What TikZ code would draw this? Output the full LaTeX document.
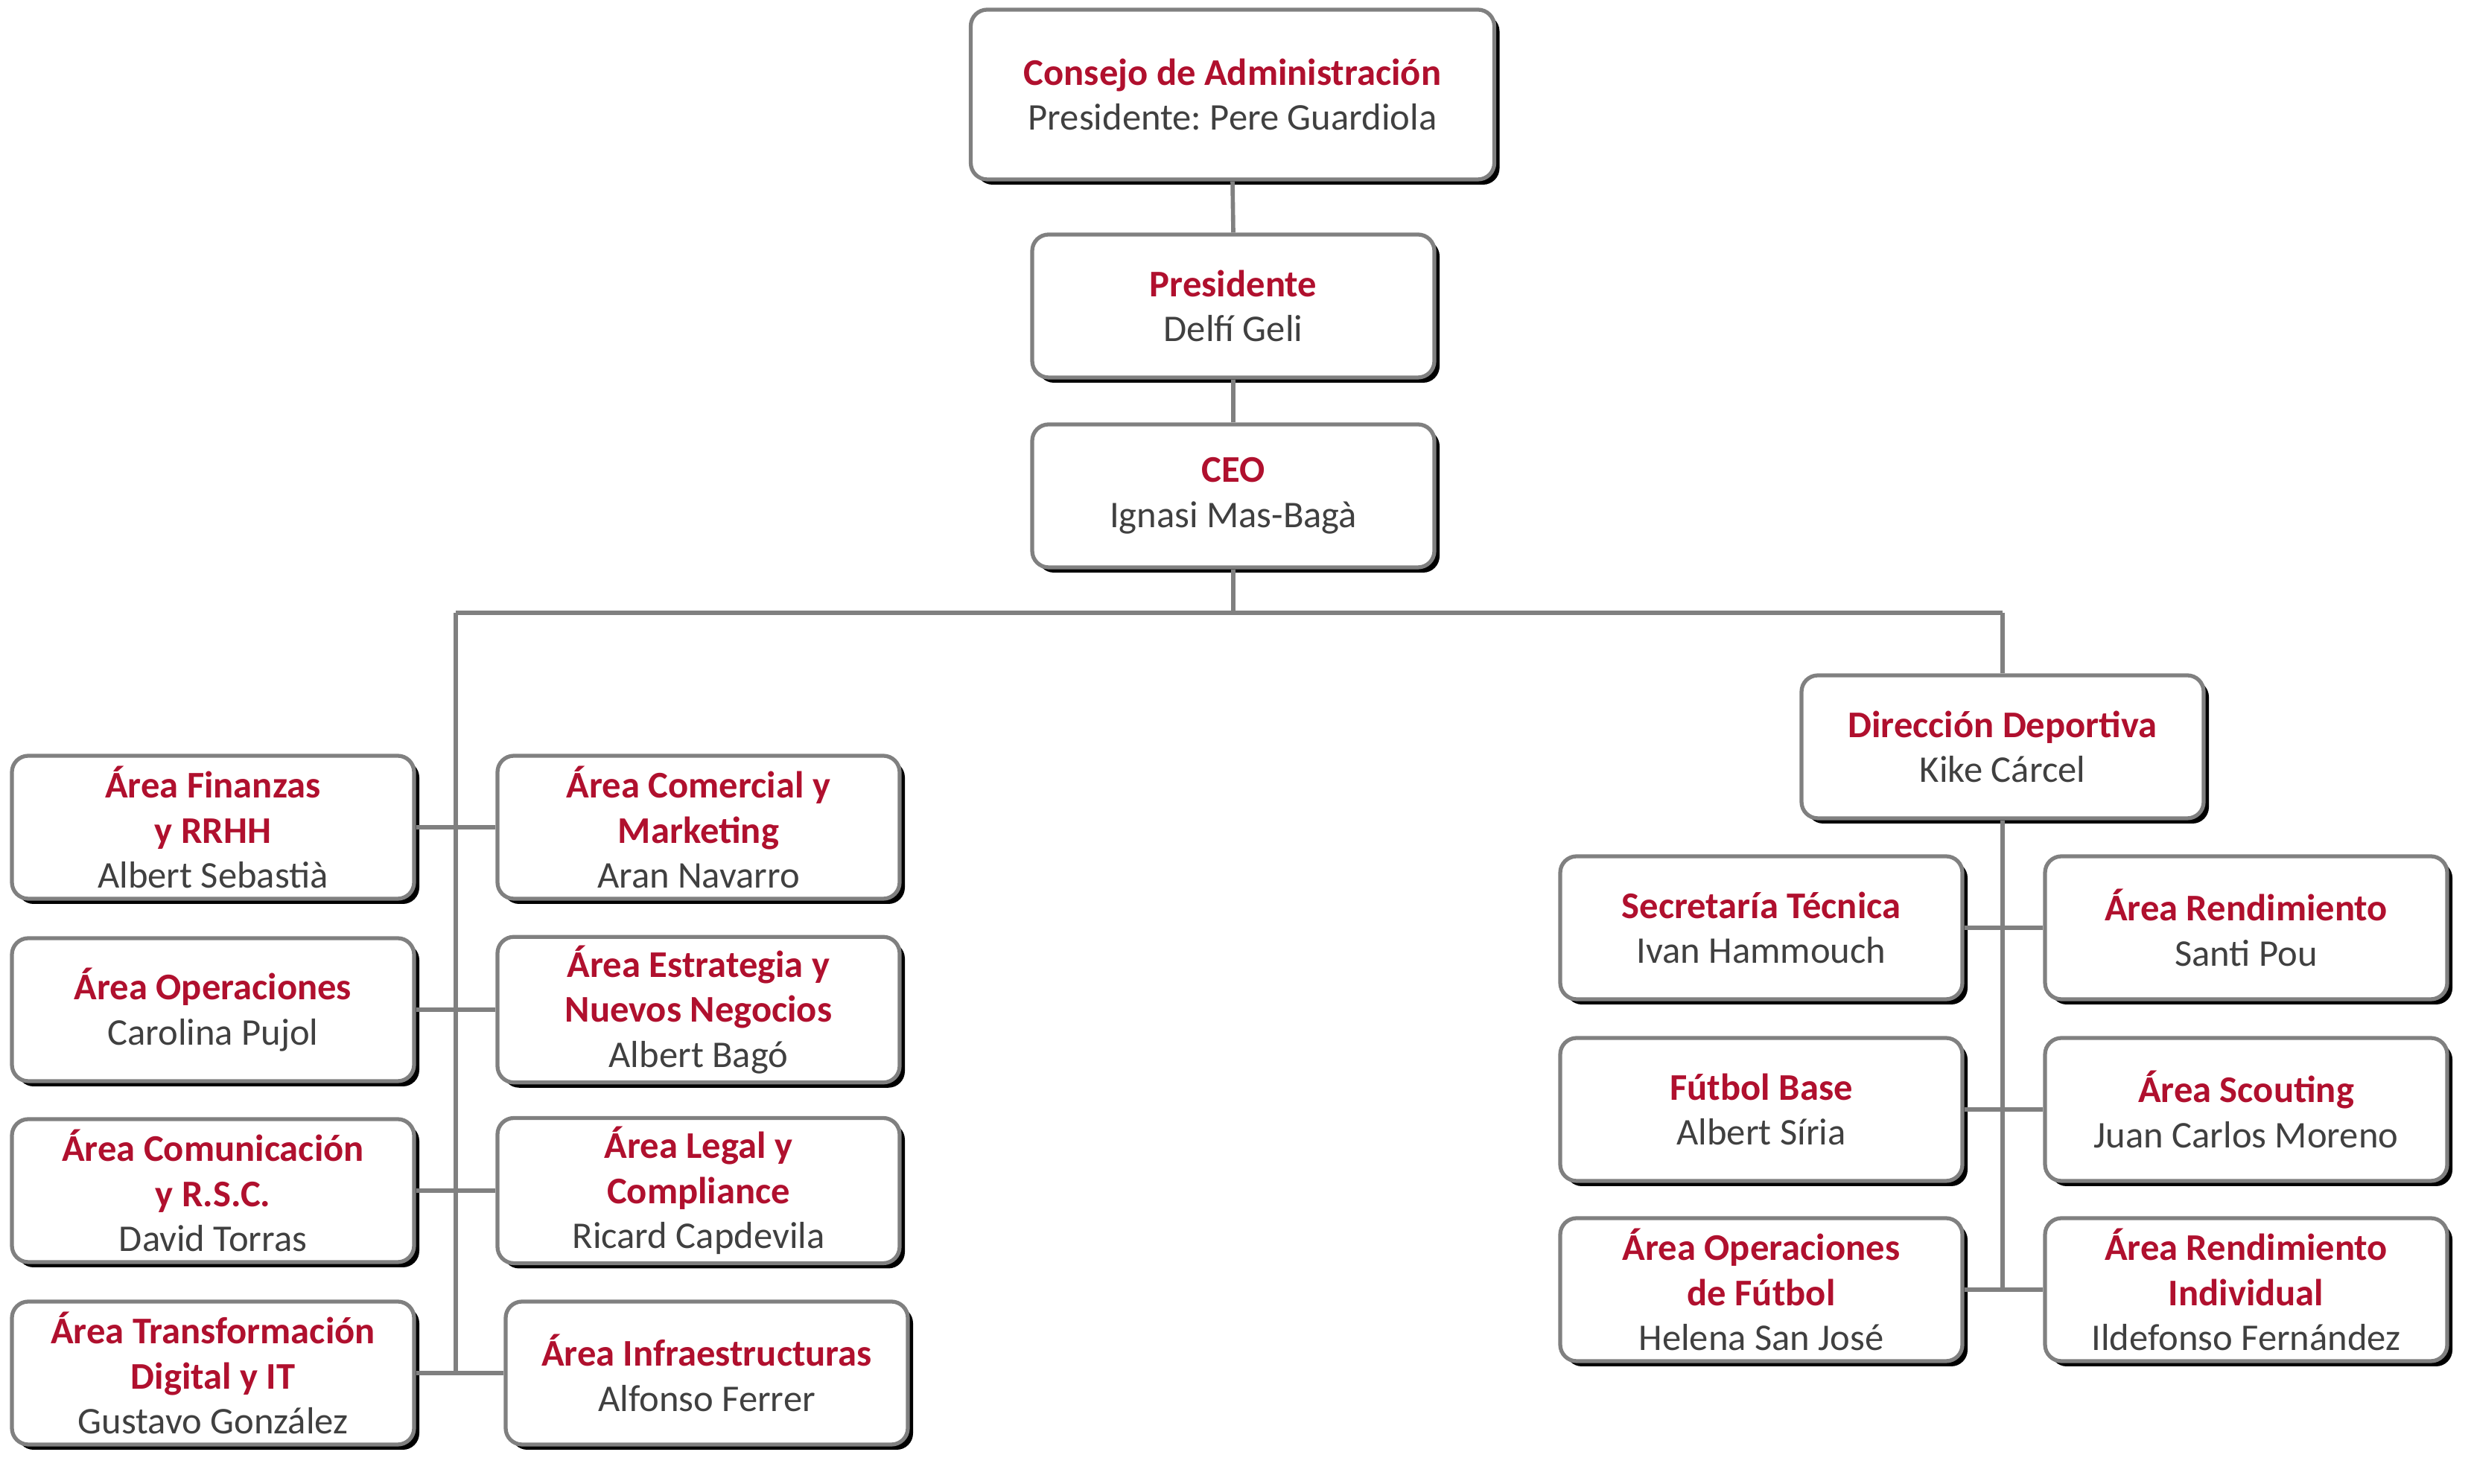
\documentclass[tikz,border=0pt]{standalone}
\usepackage{fontspec}
\setmainfont{Carlito}
\usetikzlibrary{shadows}
\frenchspacing
\definecolor{orgred}{RGB}{176,16,46}
\definecolor{orggray}{RGB}{64,64,64}
\definecolor{orgline}{RGB}{128,128,128}
\newcommand{\OrgName}[1]{{\color{orggray}\mdseries #1}}
\newcommand{\BoxW}{5.40}
\newcommand{\BoxH}{1.92}
\tikzset{
  orgbox/.style={
    draw=orgline,
    line width=1.5pt,
    fill=white,
    rounded corners=0.22cm,
    minimum width=\BoxW cm,
    minimum height=\BoxH cm,
    align=center,
    text=orgred,
    font=\fontsize{14.4}{17.2}\selectfont\bfseries,
    drop shadow={shadow xshift=0.07cm,shadow yshift=-0.07cm,opacity=1,fill=black}
  },
  topbox/.style={
    orgbox,
    minimum width=7.03cm,
    minimum height=2.28cm
  },
  link/.style={
    draw=orgline,
    line width=1.6pt
  }
}

\begin{document}
\begin{tikzpicture}[x=1cm,y=1cm]
  \useasboundingbox (0,0) rectangle (33.18,19.93);

  % top of the chart
  \node[topbox] (board) at (16.55,18.66) {Consejo de Administración\\\OrgName{Presidente: Pere Guardiola}};
  \node[orgbox] (pres) at (16.56,15.82) {Presidente\\\OrgName{Delfí Geli}};
  \node[orgbox] (ceo) at (16.56,13.27) {CEO\\\OrgName{Ignasi Mas-Bagà}};

  \coordinate (busL) at (6.12,11.70);
  \coordinate (busR) at (26.89,11.70);
  \coordinate (busC) at (16.56,11.70);

  % corporate areas
  \node[orgbox] (fin) at (2.86,8.82) {Área Finanzas\\y RRHH\\\OrgName{Albert Sebastià}};
  \node[orgbox] (com) at (9.38,8.82) {Área Comercial y\\Marketing\\\OrgName{Aran Navarro}};
  \node[orgbox] (ops) at (2.86,6.37) {Área Operaciones\\\OrgName{Carolina Pujol}};
  \node[orgbox] (estr) at (9.38,6.37) {Área Estrategia y\\Nuevos Negocios\\\OrgName{Albert Bagó}};
  \node[orgbox] (comu) at (2.86,3.94) {Área Comunicación\\y R.S.C.\\\OrgName{David Torras}};
  \node[orgbox] (legal) at (9.38,3.94) {Área Legal y\\Compliance\\\OrgName{Ricard Capdevila}};
  \node[orgbox] (digit) at (2.86,1.49) {Área Transformación\\Digital y IT\\\OrgName{Gustavo González}};
  \node[orgbox] (infra) at (9.49,1.49) {Área Infraestructuras\\\OrgName{Alfonso Ferrer}};

  % sports areas
  \node[orgbox] (dir) at (26.89,9.90) {Dirección Deportiva\\\OrgName{Kike Cárcel}};
  \node[orgbox] (secr) at (23.65,7.47) {Secretaría Técnica\\\OrgName{Ivan Hammouch}};
  \node[orgbox] (rend) at (30.16,7.47) {Área Rendimiento\\\OrgName{Santi Pou}};
  \node[orgbox] (base) at (23.65,5.03) {Fútbol Base\\\OrgName{Albert Síria}};
  \node[orgbox] (scout) at (30.16,5.03) {Área Scouting\\\OrgName{Juan Carlos Moreno}};
  \node[orgbox] (opsf) at (23.65,2.61) {Área Operaciones\\de Fútbol\\\OrgName{Helena San José}};
  \node[orgbox] (indiv) at (30.16,2.61) {Área Rendimiento\\Individual\\\OrgName{Ildefonso Fernández}};

  % connectors
  \draw[link] (board.south) -- (pres.north);
  \draw[link] (pres.south) -- (ceo.north);
  \draw[link] (ceo.south) -- (busC);
  \draw[link] (busL) -- (busR);
  \draw[link] (busR) -- (dir.north);
  \draw[link] (busL) -- (busL |- digit.east);
  \draw[link] (dir.south) -- (dir.south |- opsf.east);
  \foreach \a/\b in {fin/com,ops/estr,comu/legal,digit/infra,secr/rend,base/scout,opsf/indiv}
    \draw[link] (\a.east) -- (\b.west);
\end{tikzpicture}
\end{document}
